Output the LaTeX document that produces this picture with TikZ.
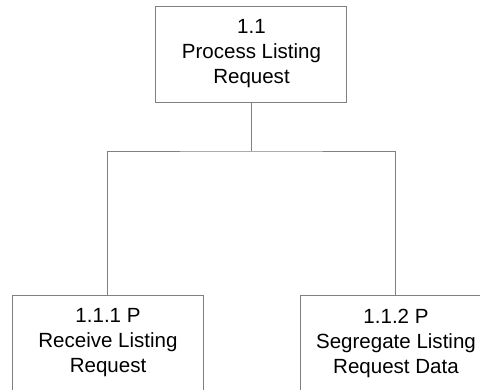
\documentclass[tikz,border=0pt]{standalone}
\usepackage{fontspec}
\setmainfont{Liberation Sans}
\definecolor{boxline}{HTML}{808080}
\begin{document}
\begin{tikzpicture}[x=0.75pt,y=-0.75pt,
  procbox/.style={draw=boxline, line width=0.75pt, minimum width=143.25pt, minimum height=72pt,
    inner sep=0pt, align=center, font=\fontsize{15.4}{18.75}\selectfont},
  link/.style={draw=boxline, line width=0.75pt}]
\useasboundingbox (0,0) rectangle (480,390);
\clip (0,0) rectangle (480,390);
\node[procbox] (p) at (251.5,54) {1.1\\Process Listing\\Request};
\node[procbox] (c1) at (108,343) {1.1.1 P\\Receive Listing\\Request};
\node[procbox] (c2) at (396,343) {1.1.2 P\\Segregate Listing\\Request Data};
\coordinate (bus) at (251.5,151);
\draw[link] (p.south) -- (bus);
\draw[link] (c1.north) |- (bus) -| (c2.north);
\end{tikzpicture}
\end{document}
